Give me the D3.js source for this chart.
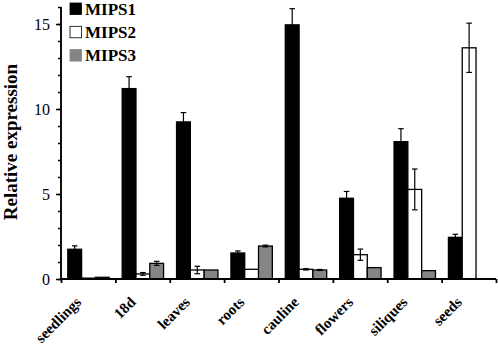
<!DOCTYPE html>
<html>
<head>
<meta charset="utf-8">
<script src="https://cdn.jsdelivr.net/npm/d3@7"></script>
<style>
  body { margin: 0; background: #fff; }
  svg { display: block; }
  text { font-family: "Liberation Serif", "Times New Roman", serif; fill: #000; }
</style>
</head>
<body>
<svg width="498" height="349"></svg>
<script>
const tissues = ['seedlings', '18d', 'leaves', 'roots', 'cauline', 'flowers', 'siliques', 'seeds'];
const series = ['MIPS1', 'MIPS2', 'MIPS3'];
const mips1 = [1.75, 11.2, 9.24, 1.53, 14.95, 4.75, 8.08, 2.45];
const mips1Err = [0.2, 0.7, 0.55, 0.12, 0.95, 0.4, 0.76, 0.18];
const mips2 = [0.05, 0.3, 0.53, 0.57, 0.57, 1.43, 5.27, 13.6];
const mips2Err = [0, 0.08, 0.22, 0, 0.04, 0.33, 1.2, 1.45];
const mips3 = [0.1, 0.92, 0.53, 1.94, 0.53, 0.67, 0.49, 0];
const mips3Err = [0, 0.12, 0, 0.05, 0.03, 0, 0, 0];
const yMajorTicks = [0, 5, 10, 15];

const colors = { MIPS1: '#000', MIPS2: '#fff', MIPS3: '#858585' };

const rows = [];
tissues.forEach((t, i) => {
    rows.push({ tissue: t, key: 'MIPS1', value: mips1[i], err: mips1Err[i] });
    rows.push({ tissue: t, key: 'MIPS2', value: mips2[i], err: mips2Err[i] });
    rows.push({ tissue: t, key: 'MIPS3', value: mips3[i], err: mips3Err[i] });
});

const svg = d3.select('svg');
const plotLeft = 61, plotRight = 496, plotTop = 7, plotBottom = 279;

const x0 = d3.scaleBand().domain(tissues).range([plotLeft, plotRight]).padding(0);
const x1 = d3.scaleBand().domain(series).range([6.8, 48.2]).padding(0);
const xEdges = d3.scaleLinear().domain([0, tissues.length]).range([plotLeft, plotRight]);
const y = d3.scaleLinear().domain([0, 16]).range([plotBottom, plotTop]);

// bars
const bars = svg.append('g');
bars.selectAll('rect')
    .data(rows)
    .join('rect')
    .attr('x', d => x0(d.tissue) + x1(d.key))
    .attr('y', d => y(d.value))
    .attr('width', x1.bandwidth())
    .attr('height', d => y(0) - y(d.value))
    .attr('fill', d => colors[d.key])
    .attr('stroke', '#000')
    .attr('stroke-width', 1.3);

// error bars
const errs = svg.append('g').attr('stroke', '#000').attr('stroke-width', 1.2);
const withErr = rows.filter(d => d.err > 0);
const cx = d => x0(d.tissue) + x1(d.key) + x1.bandwidth() / 2;
errs.selectAll('line.v')
    .data(withErr)
    .join('line')
    .attr('class', 'v')
    .attr('x1', cx).attr('x2', cx)
    .attr('y1', d => y(d.value - d.err))
    .attr('y2', d => y(d.value + d.err));
errs.selectAll('line.top')
    .data(withErr)
    .join('line')
    .attr('class', 'top')
    .attr('x1', d => cx(d) - 2.8).attr('x2', d => cx(d) + 2.8)
    .attr('y1', d => y(d.value + d.err))
    .attr('y2', d => y(d.value + d.err));
errs.selectAll('line.bot')
    .data(withErr)
    .join('line')
    .attr('class', 'bot')
    .attr('x1', d => cx(d) - 2.8).attr('x2', d => cx(d) + 2.8)
    .attr('y1', d => y(d.value - d.err))
    .attr('y2', d => y(d.value - d.err));

// y axis: minor then major
const yMinor = d3.axisLeft(y).tickValues(d3.range(0, 17)).tickSize(3).tickFormat('');
const yMinorG = svg.append('g').attr('transform', `translate(${plotLeft},0)`).call(yMinor);
const yMajor = d3.axisLeft(y).tickValues(yMajorTicks).tickSize(5).tickPadding(6).tickFormat(d3.format('d'));
const yMajorG = svg.append('g')
    .attr('transform', `translate(${plotLeft},0)`)
    .call(yMajor)
    .attr('font-family', '"Liberation Serif", serif')
    .attr('font-size', 16);
[yMinorG, yMajorG].forEach(g => {
    g.selectAll('path, line').attr('stroke', '#000').attr('stroke-width', 1.5);
    g.select('.domain').attr('d', `M0,${plotTop}V${plotBottom}`);
});
yMajorG.selectAll('.tick text')
    .style('font-family', '"Liberation Serif", serif')
    .style('font-size', '16px')
    .attr('fill', '#000');

// x axis: ticks on category boundaries
const xTicks = d3.axisBottom(xEdges).tickValues(d3.range(0, tissues.length + 1)).tickSize(4).tickFormat('');
const xTicksG = svg.append('g').attr('transform', `translate(0,${plotBottom})`).call(xTicks);
xTicksG.selectAll('path, line').attr('stroke', '#000').attr('stroke-width', 1.8);
xTicksG.select('.domain').attr('d', `M${plotLeft},0H${plotRight}`);

// category labels, rotated
const catG = svg.append('g')
    .selectAll('g')
    .data(tissues)
    .join('g')
    .attr('transform', d => `translate(${x0(d) + x0.bandwidth() / 2 - 6},${plotBottom + 24})`);
catG.append('text')
    .attr('transform', 'rotate(-45)')
    .attr('text-anchor', 'end')
    .attr('font-weight', 'bold')
    .attr('font-size', 15)
    .text(d => d);

// y axis title
svg.append('text')
    .attr('transform', `translate(17,${(plotTop + plotBottom) / 2 - 1}) rotate(-90)`)
    .attr('text-anchor', 'middle')
    .attr('font-weight', 'bold')
    .attr('font-size', 19)
    .text('Relative expression');

// legend
const legend = svg.append('g').attr('transform', 'translate(70,3)');
const item = legend.selectAll('g')
    .data(series)
    .join('g')
    .attr('transform', (d, i) => `translate(0,${i * 23.3})`);
item.append('rect')
    .attr('width', 11.5)
    .attr('height', 11.5)
    .attr('fill', d => colors[d])
    .attr('stroke', d => d === 'MIPS3' ? '#858585' : '#000')
    .attr('stroke-width', 0.8);
item.append('text')
    .attr('x', 15)
    .attr('y', 11.8)
    .attr('font-weight', 'bold')
    .attr('font-size', 17)
    .text(d => d);
</script>
</body>
</html>
